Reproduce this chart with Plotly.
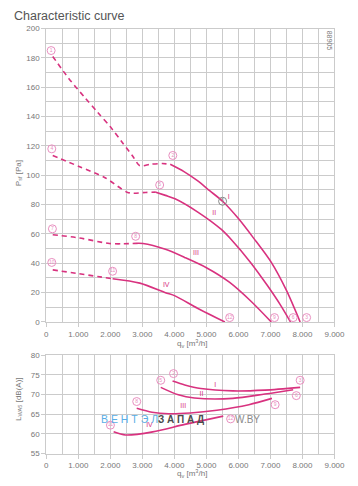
import plotly.graph_objects as go

# ---------------- data ----------------
# Top chart: pressure curves  q_v [m3/h] -> P_sf [Pa]
d1_q = [200, 700, 1200, 1600, 2000, 2350, 2700, 2920, 3250, 3620, 3870]
d1_p = [181, 166, 153, 143, 133, 123, 113, 106.5, 107.5, 108, 107.5]
s1_q = [3870, 4300, 4720, 5100, 5505, 6000, 6480, 7027, 7500, 7928]
s1_p = [107.5, 102.5, 96.3, 89.5, 82.3, 70.5, 57, 40.6, 21.5, 0]

d2_q = [200, 1020, 1820, 2520, 2720, 3100, 3420]
d2_p = [113.5, 106, 98.5, 88.5, 87.8, 88.3, 88.5]
s2_q = [3420, 3720, 4020, 4720, 5475, 5775, 6378, 6900, 7300, 7628]
s2_p = [88.5, 86.3, 84, 75.1, 62.9, 56.2, 40.6, 25, 12, 0]

d3_q = [200, 1020, 1970, 2400, 2800]
d3_p = [59.5, 57.3, 53.5, 53.3, 53.6]
s3_q = [2800, 3020, 3720, 4320, 5000, 5727, 6400, 7027]
s3_p = [53.6, 53.5, 49.5, 44, 37, 27, 14, 0]

d4_q = [200, 1000, 1600, 2070]
d4_p = [35.5, 33, 31, 29.5]
s4_q = [2070, 2920, 3720, 4020, 4720, 5577]
s4_p = [29.5, 26.5, 20, 17.8, 9.4, 0]

# Top chart: numbered points
pt_top_num = ["1", "2", "3", "4", "5", "6", "7", "8", "9", "10", "11", "12"]
pt_top_q = [150, 3950, 8130, 170, 3540, 7710, 190, 2790, 7127, 170, 2070, 5727]
pt_top_p = [185, 113.5, 3, 118, 93.4, 3, 63.5, 58.4, 3, 40.6, 34.6, 3]
grey_pt_q = [5505]
grey_pt_p = [82.3]

curve_names = ["I", "II", "III", "IV"]
lbl_top_q = [5700, 5245, 4675, 3745]
lbl_top_p = [85, 74, 46.6, 25]

# Bottom chart: sound power  q_v -> L_WA5 [dB(A)]
b1_q = [3943, 4324, 4825, 5826, 6827, 7928]
b1_l = [73.4, 72.4, 71.5, 70.9, 71.1, 71.8]
b2_q = [3574, 4123, 4625, 5826, 6827, 7710]
b2_l = [71.8, 69.9, 69.1, 69.0, 70.1, 71.2]
b3_q = [2823, 3300, 3823, 4500, 5325, 6326, 7047]
b3_l = [66.5, 65.5, 65.1, 65.3, 66.0, 67.4, 69.0]
b4_q = [2102, 2472, 3322, 4324, 5525]
b4_l = [60.5, 59.7, 60.5, 62.4, 64.5]

pt_bot_num = ["2", "3", "5", "6", "8", "9", "11", "12"]
pt_bot_q = [3973, 7928, 3574, 7808, 2823, 7147, 2002, 5756]
pt_bot_l = [75.3, 73.6, 73.6, 69.7, 68.2, 67.4, 62.2, 63.8]

lbl_bot_q = [5276, 4845, 4275, 3222]
lbl_bot_l = [72.4, 70.1, 67.0, 62.2]

x_ticks = [0, 1000, 2000, 3000, 4000, 5000, 6000, 7000, 8000, 9000]
x_ticktext = ["0", "1.000", "2.000", "3.000", "4.000", "5.000", "6.000", "7.000", "8.000", "9.000"]
y1_ticks = [0, 20, 40, 60, 80, 100, 120, 140, 160, 180, 200]
y2_ticks = [55, 60, 65, 70, 75, 80]

# ---------------- styling ----------------
W, H = 358, 486
CURVE = "#d8327f"
PT = "#e98fc0"
GRID = "#cbcbcb"
TXT = "#777777"
FONT = "Liberation Sans, Arial, sans-serif"

xdom = [46 / W, 345 / W]
y1dom = [1 - 324 / H, 1 - 25 / H]
y2dom = [1 - 458 / H, 1 - 357.7 / H]

fig = go.Figure()

def line(q, v, dash, xa, ya):
    fig.add_trace(go.Scatter(x=q, y=v, mode="lines", xaxis=xa, yaxis=ya,
                             line=dict(color=CURVE, width=1.6, dash=dash, shape="spline", smoothing=0.8),
                             hoverinfo="skip", showlegend=False))

for q, p in [(d1_q, d1_p), (d2_q, d2_p), (d3_q, d3_p), (d4_q, d4_p)]:
    line(q, p, "5px,4px", "x", "y")
for q, p in [(s1_q, s1_p), (s2_q, s2_p), (s3_q, s3_p), (s4_q, s4_p)]:
    line(q, p, "solid", "x", "y")
for q, l in [(b1_q, b1_l), (b2_q, b2_l), (b3_q, b3_l), (b4_q, b4_l)]:
    line(q, l, "solid", "x2", "y2")

def points(q, v, nums, xa, ya, color):
    fig.add_trace(go.Scatter(x=q, y=v, mode="markers+text", xaxis=xa, yaxis=ya, text=nums,
                             textposition="middle center",
                             textfont=dict(size=5, color=color, family=FONT),
                             marker=dict(symbol="circle-open", size=8, color=color, line=dict(width=1, color=color)),
                             hoverinfo="skip", showlegend=False, cliponaxis=False))

points(pt_top_q, pt_top_p, pt_top_num, "x", "y", PT)
points(grey_pt_q, grey_pt_p, ["5"], "x", "y", "#888888")
points(pt_bot_q, pt_bot_l, pt_bot_num, "x2", "y2", PT)

fig.add_trace(go.Scatter(x=lbl_top_q, y=lbl_top_p, mode="text", text=curve_names, xaxis="x", yaxis="y",
                         textfont=dict(size=7, color=CURVE, family=FONT), hoverinfo="skip", showlegend=False))
fig.add_trace(go.Scatter(x=lbl_bot_q, y=lbl_bot_l, mode="text", text=curve_names, xaxis="x2", yaxis="y2",
                         textfont=dict(size=7, color=CURVE, family=FONT), hoverinfo="skip", showlegend=False))

axis_common = dict(showgrid=True, gridcolor=GRID, gridwidth=1, showline=True, linecolor=GRID, mirror=True,
                   ticks="outside", ticklen=4, tickcolor=GRID, zeroline=False,
                   tickfont=dict(size=8, color=TXT, family=FONT))

fig.update_layout(
    width=W, height=H, margin=dict(l=0, r=0, t=0, b=0), autosize=False,
    paper_bgcolor="white", plot_bgcolor="white", hovermode=False,
    xaxis=dict(domain=xdom, range=[0, 9000], anchor="y", tickvals=x_ticks, ticktext=x_ticktext,
               minor=dict(dtick=500, tick0=0, showgrid=True, gridcolor=GRID, gridwidth=1), **axis_common),
    yaxis=dict(domain=y1dom, range=[0, 200], anchor="x", tickvals=y1_ticks,
               minor=dict(dtick=10, tick0=0, showgrid=True, gridcolor=GRID, gridwidth=1), **axis_common),
    xaxis2=dict(domain=xdom, range=[0, 9000], anchor="y2", tickvals=x_ticks, ticktext=x_ticktext,
                minor=dict(dtick=500, tick0=0, showgrid=True, gridcolor=GRID, gridwidth=1), **axis_common),
    yaxis2=dict(domain=y2dom, range=[55, 80], anchor="x2", tickvals=y2_ticks, **axis_common),
)

ann = []
ann.append(dict(text="Characteristic curve", x=10 / W, y=1 - 3 / H, xref="paper", yref="paper",
                xanchor="left", yanchor="top", showarrow=False,
                font=dict(size=12.5, color="#555555", family=FONT)))
ann.append(dict(text="88905", x=340 / W, y=1 - 37 / H, xref="paper", yref="paper", textangle=90,
                xanchor="center", yanchor="middle", showarrow=False, font=dict(size=7, color=TXT, family=FONT)))
ann.append(dict(text="P<sub>sf</sub> [Pa]", x=17 / W, y=1 - 172 / H, xref="paper", yref="paper", textangle=-90,
                xanchor="center", yanchor="middle", showarrow=False, font=dict(size=8, color=TXT, family=FONT)))
ann.append(dict(text="L<sub>WA5</sub> [dB(A)]", x=17 / W, y=1 - 402 / H, xref="paper", yref="paper", textangle=-90,
                xanchor="center", yanchor="middle", showarrow=False, font=dict(size=8, color=TXT, family=FONT)))
for yy in [346, 478]:
    ann.append(dict(text="q<sub>v</sub> [m<sup>3</sup>/h]", x=197 / W, y=1 - yy / H, xref="paper", yref="paper",
                    xanchor="center", yanchor="middle", showarrow=False, font=dict(size=8, color=TXT, family=FONT)))
# watermark
ann.append(dict(text="В Е Н Т Э Л", x=101 / W, y=1 - 423 / H, xref="paper", yref="paper", xanchor="left",
                yanchor="middle", showarrow=False, font=dict(size=10.5, color="#5aaee6", family=FONT)))
ann.append(dict(text="<b>З А П А Д</b>", x=160 / W, y=1 - 423 / H, xref="paper", yref="paper", xanchor="left",
                yanchor="middle", showarrow=False, font=dict(size=10, color="#4a4a4a", family=FONT)))
ann.append(dict(text="W.BY", x=240 / W, y=1 - 423 / H, xref="paper", yref="paper", xanchor="left",
                yanchor="middle", showarrow=False, font=dict(size=10, color="#8a8a8a", family=FONT)))
fig.update_layout(annotations=ann)

fig.write_html("out.html", config={"displayModeBar": False},
               post_script="document.body.style.margin='0';document.body.style.padding='0';")
